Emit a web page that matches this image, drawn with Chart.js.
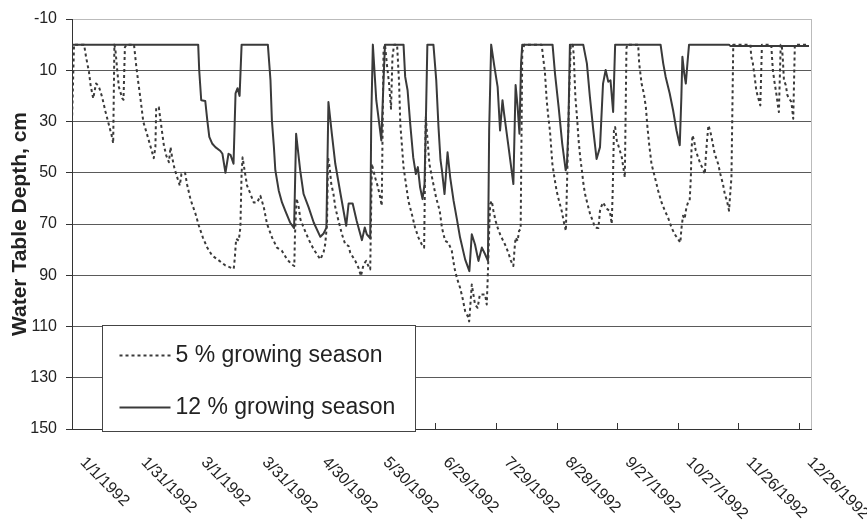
<!DOCTYPE html>
<html>
<head>
<meta charset="utf-8">
<script src="https://cdn.jsdelivr.net/npm/chart.js@4.4.0/dist/chart.umd.min.js"></script>
<style>
  html, body { margin: 0; padding: 0; background: #fff; }
  #wrap { width: 867px; height: 529px; }
</style>
</head>
<body>
<div id="wrap"><canvas id="myChart" width="867" height="529"></canvas></div>
<script>
// day of year (0 = 1/1/1992), water table depth in cm
let season5 = [
    [0,30],[1,0],[6,0],[7,5],[8.4,10.6],[9.2,15.8],[10.5,21],[11.9,15.2],[12.8,15.8],[13.6,17.1],
    [14.9,20.4],[16.6,26.2],[18.3,31.4],[19.6,35.3],[20.4,38.5],[21,0],[21.5,2],[22.4,10],[23.2,16.5],[24.9,21],
    [25.5,21.5],[26.2,1],[27,0],[30.7,0],[31.8,8.2],[32.8,14.6],[33.9,21],[35.3,30.1],[36.8,34],[38.9,39.8],
    [40.5,44.3],[41.3,40],[41.7,24.7],[43,24.4],[43.8,29.3],[45.5,39.3],[46.7,43.3],[48,45.9],[48.8,40],[49.6,44],
    [50.8,48.5],[52.1,51.8],[53.4,55],[54.2,50.5],[56,50],[57,54.6],[58.7,60.4],[61.2,66.1],[62.8,70.6],[64.8,75.2],
    [66.9,79.1],[69.4,82.3],[72.7,84.2],[76,86.2],[80.1,87.5],[80.6,83.6],[81.3,75.8],[82.6,76.5],[83.4,71.3],[84,50],
    [84.5,44],[85.1,47.2],[86.7,55],[88.4,58.3],[90,61.6],[91.7,61.6],[93.3,59],[95,63.5],[96.6,70],[99.1,75.3],
    [101.5,79.2],[104,80.5],[106.5,83.8],[108.9,85.8],[110.1,86.4],[110.4,75],[111.2,60],[112.3,63.5],[113.1,68.1],[114.7,71.4],
    [117.2,76],[119.7,79.9],[123,83.8],[124.6,81],[125.4,77.9],[126.3,70],[126.8,44],[127.6,47.8],[128.4,54.4],[129.5,58.3],
    [130.4,63.5],[132,68.8],[133.7,74],[135.3,77.9],[137,78.6],[137.8,81.2],[140.3,84.4],[141.9,87.1],[143.1,90.3],[144.4,85.8],
    [145.7,84.4],[146.8,86.4],[147.7,87.7],[148.5,46.5],[150.1,51.8],[151.3,55],[152.3,58.3],[153.4,62.9],[154.3,2],[155,0],
    [156,8],[157,15],[158,25],[158.7,5],[159.5,0],[161,0],[162,15],[162.6,31],[164.2,47.8],[166.6,61],
    [168.3,66.1],[169.9,71.4],[171.6,75.3],[173.2,77.9],[174.4,79.2],[175.2,28],[176.1,37.4],[177,46.5],[178.6,53],[180.3,59.6],
    [182.1,64.8],[183.2,71.4],[184.8,76.6],[186.4,77.3],[188.1,80.5],[189.4,87.1],[190.6,91],[192.2,94.9],[193.4,98.8],[194.7,104],
    [196,106],[196.7,108],[197.2,102.7],[198,93.6],[198.8,97.5],[199.6,101.4],[200.9,102.7],[202,97.5],[204.6,97.5],[205.4,101.4],
    [205.9,91],[206.6,72.7],[207.1,62.2],[207.9,61],[208.7,64.8],[209.8,68.8],[210.8,71.4],[212,74],[213.2,76],[214.4,77.9],
    [216.1,81.2],[217.4,84.4],[218.6,86.4],[219.1,80.5],[219.7,75.3],[220.7,76.6],[221.4,72.7],[222.2,72],[223,3],[224,0],
    [232.6,0],[233.4,5.4],[234.2,10.6],[235.1,21.7],[235.9,28.2],[236.7,33.5],[237.9,46.5],[238.9,51.8],[240,57],[241.2,61],
    [242.5,64.8],[243.8,70],[244.6,72.7],[245.3,50],[246.2,20],[247,0],[248,0],[248.5,4],[249.3,20.4],[250.1,28.2],
    [250.9,37.4],[251.7,44],[252.5,49],[253.3,54.4],[254.1,58.3],[255.3,62.2],[256.6,66.1],[257.9,68.8],[259.1,71.4],[260.7,71.6],
    [261.5,64.8],[262.3,62.9],[263.1,61.6],[264,63],[265.1,64.2],[266.4,65],[267.3,70],[267.8,57],[268.4,33.5],[269,32.2],
    [269.8,37.4],[271.1,40.7],[272.3,44],[273.8,51.8],[274.6,1.4],[275,0],[280.4,0],[280.9,7.3],[282.1,15.2],[283.2,19],
    [284.2,24.3],[285,32.2],[285.9,39.3],[287,46.5],[288.7,51.8],[290.3,57],[292,61.6],[293.6,64.8],[295.2,67.5],[296.9,71.4],
    [298.5,74],[300.2,76],[301.3,77.3],[301.8,72],[302.6,66.8],[303.4,68],[304.3,63.5],[305.1,61.6],[305.9,61],[306.5,51.8],
    [306.8,41.3],[307.3,35.4],[308.1,37.4],[308.9,41.3],[310.1,44],[311.2,46.5],[312.5,48.5],[313.4,50.5],[313.9,44],[314.5,37.4],
    [315.2,31.5],[316.2,34.1],[317.2,38],[318.3,42.6],[320,46.5],[321.1,50.5],[322.4,54.4],[323.3,58.3],[324.4,61],[325.4,64.8],
    [326.1,57],[326.6,51.8],[327.5,0],[336,0],[336.4,4.7],[337.2,7.3],[338.1,12.5],[338.9,17.8],[339.7,20.4],[340.9,23.7],
    [341.7,0],[346.3,0],[347.1,9.9],[347.9,14.5],[348.8,19],[349.6,23.7],[350.1,26.3],[351,0],[351.5,0],[352,5],
    [352.6,13.9],[353.5,15.8],[354.3,19.7],[355.1,21],[356.3,22.4],[357.2,28.9],[358,0],[365,0]
]
let season12 = [
    [0,0],[62.5,0],[63,10],[64,21.7],[66,22],[67,29.5],[68,36],[69.5,38.7],[71,40],[73.5,41.5],
    [74.5,42.6],[76,50],[77.5,42.6],[78.5,43],[80,46.5],[81,19],[82,17],[83,20],[84,0],[97,0],
    [98.3,13.9],[99,29.5],[100,40],[100.7,49],[102.4,57],[104,61.6],[105.7,65],[108,69.4],[110,71.6],[111,34.8],
    [113,49],[114.7,58.3],[117.2,63.5],[119.7,69.4],[123,75],[124.6,73.7],[126,71.4],[127,22.4],[128.7,34.8],[130.4,46.5],
    [133,58.3],[135.8,70.7],[137,62],[139,62],[141,68.8],[143.6,76.3],[145,71.4],[146,74],[147.7,75.6],[148.2,29.5],
    [149,0],[150.7,21.7],[153.2,37.4],[154.3,13.9],[155,0],[164.2,0],[165,12.5],[166.2,17.8],[167.5,30.8],[169,44],
    [170.3,50.5],[171.3,47.8],[172.4,55.7],[173.6,60.3],[174.6,54.4],[175.4,24.3],[176,0],[179,0],[180.4,13.9],[181.5,32],
    [182.5,45],[183.2,49],[184.5,58.3],[186,42],[187.3,51.8],[189,61],[190.6,68],[192.2,75.3],[194.7,83.8],[196.8,88.4],
    [198,74],[199.6,78],[201.3,84.4],[203,79.2],[204.6,81.8],[206,84.4],[206.6,33.5],[207.6,0],[209.2,8.6],[210.8,16.5],
    [212,33.5],[213.2,21.7],[214,26.9],[216,38.7],[218.6,54.4],[219.7,15.8],[220.7,24.3],[221.6,34.8],[222.4,7.3],[223,0],
    [238,0],[239.2,11.2],[241,24.3],[242.8,38.7],[244.5,49],[245.1,47.2],[245.8,33.5],[246.6,0],[253.2,0],[255,7.3],
    [256.5,20.4],[258.2,33.5],[259.8,44.6],[261.5,40],[263,15.2],[264.3,9.9],[265.6,14.5],[266.7,13.9],[268,26.3],[269,0],
    [291.5,0],[292.8,7.3],[294,12.5],[296,19],[297.7,25.6],[299.4,33.5],[301,39.3],[301.8,20.4],[302.3,4.7],[303.2,11.2],
    [304,15.2],[304.8,7.3],[305.6,0],[325.4,0],[326,0.5],[365,0.5]
]
let seriesNames = ['5 % growing season', '12 % growing season']
let xTickDays = [0, 30, 60, 90, 120, 150, 180, 210, 240, 270, 300, 330, 360]
let xTickLabels = ['1/1/1992', '1/31/1992', '3/1/1992', '3/31/1992', '4/30/1992', '5/30/1992', '6/29/1992',
    '7/29/1992', '8/28/1992', '9/27/1992', '10/27/1992', '11/26/1992', '12/26/1992']
let yTicks = [-10, 10, 30, 50, 70, 90, 110, 130, 150]

const FONT = '"Liberation Sans", Arial, sans-serif'
const INK = '#3a3a3a'

function toPoints(pairs){
    return pairs.map(p => ({x: p[0], y: p[1]}))
}

// axis labels, inside tick marks, right border and the boxed legend
let decor = {
    id: 'decor',
    beforeDatasetsDraw(c){
        let ctx = c.ctx, a = c.chartArea
        ctx.save()
        ctx.strokeStyle = '#bbbbbb'
        ctx.lineWidth = 1
        ctx.beginPath()
        ctx.moveTo(Math.round(a.right) + 0.5, a.top)
        ctx.lineTo(Math.round(a.right) + 0.5, a.bottom)
        ctx.stroke()
        ctx.restore()
    },
    afterDraw(c){
        let ctx = c.ctx, a = c.chartArea, xs = c.scales.x
        ctx.save()
        ctx.strokeStyle = '#333'
        ctx.lineWidth = 1
        ctx.fillStyle = '#1e1e1e'
        ctx.font = '16px ' + FONT
        ctx.textAlign = 'left'
        ctx.textBaseline = 'middle'
        for (let i = 0; i < xTickDays.length; i++) {
            let x = Math.round(xs.getPixelForValue(xTickDays[i])) + 0.5
            ctx.beginPath()
            ctx.moveTo(x, a.bottom)
            ctx.lineTo(x, a.bottom - 6)
            ctx.stroke()
            ctx.save()
            ctx.translate(x + 10, a.bottom + 31)
            ctx.rotate(Math.PI / 4)
            ctx.fillText(xTickLabels[i], 0, 0)
            ctx.restore()
        }

        let bx = Math.round(a.left) + 30.5, by = Math.round(a.bottom) - 103.5
        let bw = 313, bh = 106
        ctx.fillStyle = '#fff'
        ctx.fillRect(bx, by, bw, bh)
        ctx.strokeStyle = '#444'
        ctx.strokeRect(bx, by, bw, bh)
        ctx.font = '23px ' + FONT
        ctx.textBaseline = 'alphabetic'
        c.data.datasets.forEach((ds, i) => {
            let ly = by + 30 + i * 52
            ctx.strokeStyle = ds.borderColor
            ctx.lineWidth = ds.borderWidth
            ctx.setLineDash(ds.borderDash || [])
            ctx.beginPath()
            ctx.moveTo(bx + 17, ly)
            ctx.lineTo(bx + 68, ly)
            ctx.stroke()
            ctx.setLineDash([])
            ctx.fillStyle = '#222'
            ctx.fillText(ds.label, bx + 73, ly + 6)
        })
        ctx.restore()
    }
}

let chart = new Chart('myChart', {
    type: 'line',
    data: {
        datasets: [{
            label: seriesNames[0],
            data: toPoints(season5),
            borderColor: INK,
            borderWidth: 2,
            borderDash: [3, 3],
            borderJoinStyle: 'round',
            pointRadius: 0,
            tension: 0
        }, {
            label: seriesNames[1],
            data: toPoints(season12),
            borderColor: INK,
            borderWidth: 2,
            borderJoinStyle: 'round',
            pointRadius: 0,
            tension: 0
        }]
    },
    options: {
        responsive: false,
        animation: false,
        layout: { padding: { top: 19, right: 56, left: 0, bottom: 0 } },
        plugins: {
            legend: { display: false },
            tooltip: { enabled: false }
        },
        scales: {
            x: {
                type: 'linear',
                min: 0,
                max: 366,
                grid: { display: false },
                border: { display: true, color: '#333', width: 1 },
                ticks: { display: false },
                afterFit: s => { s.height = 100 }
            },
            y: {
                reverse: true,
                min: -10,
                max: 150,
                afterBuildTicks: s => { s.ticks = yTicks.map(v => ({value: v})) },
                ticks: { font: { size: 16, family: FONT }, color: '#222', padding: 9 },
                grid: {
                    color: c => (c.tick && c.tick.value === -10) ? '#bbbbbb' : '#5a5a5a',
                    tickColor: '#333',
                    tickLength: 6
                },
                border: { color: '#333', width: 1 },
                title: {
                    display: true,
                    text: 'Water Table Depth, cm',
                    color: '#222',
                    font: { size: 21, weight: 'bold', family: FONT },
                    padding: { top: 8, bottom: 0 }
                },
                afterFit: s => { s.width = 72 }
            }
        }
    },
    plugins: [decor]
})
</script>
</body>
</html>
